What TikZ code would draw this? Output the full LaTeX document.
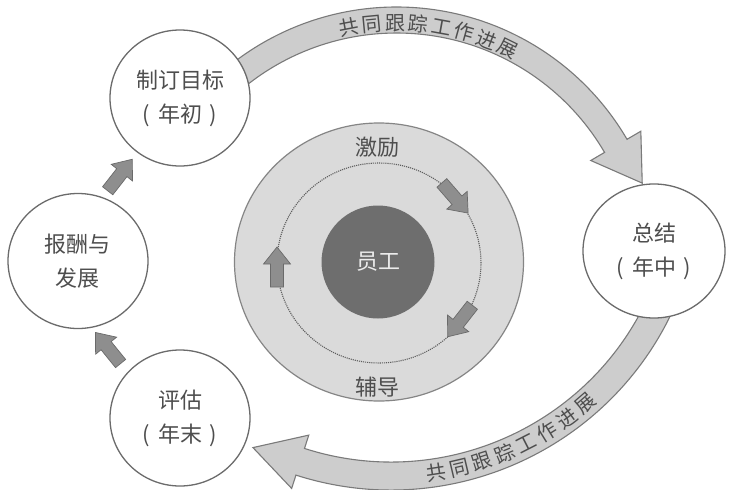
\documentclass[tikz,border=0pt]{standalone}
\usepackage{fontspec}
\newfontfamily\cjk{Noto Sans CJK SC}
\usetikzlibrary{shapes.geometric,calc}
\definecolor{lineC}{HTML}{6B6B6B}
\definecolor{txtC}{HTML}{4E4E4E}
\definecolor{bandFill}{HTML}{CDCDCD}
\definecolor{bandLine}{HTML}{7A7A7A}
\definecolor{ringFill}{HTML}{DADADA}
\definecolor{ringLine}{HTML}{858585}
\definecolor{coreC}{HTML}{6E6E6E}
\definecolor{arrowFill}{HTML}{8E8E8E}
\definecolor{arrowLine}{HTML}{6A6A6A}
\definecolor{dotC}{HTML}{5E5E5E}
\newcommand{\pp}[1]{(\hspace{0.35em}#1\hspace{0.35em})}
\begin{document}
\begin{tikzpicture}[x=1pt,y=-1pt,
  bubble/.style={ellipse, draw=lineC, line width=1.3pt, fill=white,
    font=\cjk\fontsize{22}{34}\selectfont, text=txtC, align=center, inner sep=0pt},
  blockarr/.pic={\draw[arrowLine, fill=arrowFill, line width=0.7pt, line join=miter]
    (-20,-6.5) -- (3,-6.5) -- (3,-13.5) -- (20,0) -- (3,13.5) -- (3,6.5) -- (-20,6.5) -- cycle;},
  band/.style={draw=bandLine, fill=bandFill, line width=1.1pt, line join=miter},
  bandtext/.style={font=\cjk\fontsize{20}{20}\selectfont, text=txtC, inner sep=0pt},
  ringtext/.style={font=\cjk\fontsize{22}{22}\selectfont, text=txtC, inner sep=0pt}]
\useasboundingbox (0,0) rectangle (729,490);
\fill[white] (0,0) rectangle (729,490);
% centre rings
\node[ellipse, draw=ringLine, fill=ringFill, line width=1.2pt,
  minimum width=289pt, minimum height=278pt] (ring) at (379,262) {};
\node[ellipse, draw=dotC, densely dotted, line width=1.1pt,
  minimum width=204pt, minimum height=200pt] (orbit) at (379,263) {};
\node[circle, fill=coreC, minimum size=113pt, inner sep=0pt,
  font=\cjk\fontsize{22}{22}\selectfont, text=white!92!black] (core) at (378,262) {员工};
\node[ringtext] (inc) at (377,147) {激励};
\node[ringtext] (coach) at (377,387) {辅导};
\pic[rotate=90] (o1) at (277,267) {blockarr};
\pic[rotate=-49] (o2) at (455,198) {blockarr};
\pic[rotate=232] (o3) at (460,321) {blockarr};
% big curved arrows
\coordinate (TC) at (396.5,274);
\coordinate (BC) at (391,179);
\draw[band] ($(TC)+(-135:267)$) arc[start angle=-135, end angle=-30.3, radius=267]
  -- ($(TC)+(-30.3:283)$) -- ($(TC)+(-20.3:262)$) -- ($(TC)+(-30.3:225)$)
  -- ($(TC)+(-30.3:241)$) arc[start angle=-30.3, end angle=-135, radius=241] -- cycle;
\draw[band] ($(BC)+(20:311)$) arc[start angle=20, end angle=107.8, radius=311]
  -- ($(BC)+(107.8:325)$) -- ($(BC)+(117.2:302)$) -- ($(BC)+(107.8:269)$)
  -- ($(BC)+(107.8:283)$) arc[start angle=107.8, end angle=20, radius=283] -- cycle;
\foreach \ch [count=\i] in {共,同,跟,踪,工,作,进,展}{
  \pgfmathsetmacro\ang{-82.3+(\i-4.5)*5.3}
  \pgfmathsetmacro\rot{-(\ang)-90}
  \node[bandtext, rotate=\rot] (top\i) at ($(TC)+(\ang:251)$) {\ch};
}
\foreach \ch [count=\i] in {共,同,跟,踪,工,作,进,展}{
  \pgfmathsetmacro\ang{65.2-(\i-4.5)*4.6}
  \pgfmathsetmacro\rot{90-(\ang)}
  \node[bandtext, rotate=\rot] (bot\i) at ($(BC)+(\ang:297)$) {\ch};
}
% outer stage circles
\node[bubble, minimum width=140pt, minimum height=136pt] (goal) at (180,98) {制订目标\\\pp{年初}};
\node[bubble, minimum width=140pt, minimum height=135pt] (reward) at (78,261) {报酬与\\发展};
\node[bubble, minimum width=140pt, minimum height=136pt] (eval) at (180,418) {评估\\\pp{年末}};
\node[bubble, minimum width=142pt, minimum height=134pt] (sum) at (654,251) {总结\\\pp{年中}};
% small arrows between circles
\pic[rotate=52] (a1) at (120,175) {blockarr};
\pic[rotate=129] (a2) at (108,348) {blockarr};
\end{tikzpicture}
\end{document}
